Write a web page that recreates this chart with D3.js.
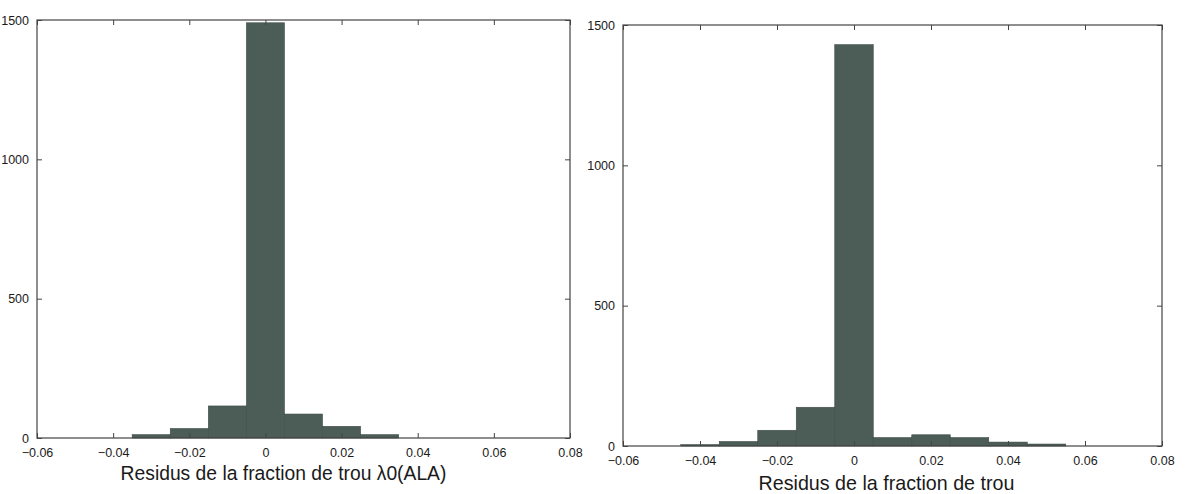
<!DOCTYPE html>
<html>
<head>
<meta charset="utf-8">
<script src="https://cdn.jsdelivr.net/npm/d3@7"></script>
<style>
  html, body { margin: 0; padding: 0; background: #fff; }
  svg { display: block; }
  text { font-family: "Liberation Sans", Arial, Helvetica, sans-serif; fill: #1a1a1a; }
</style>
</head>
<body>
<svg id="chart" width="1186" height="494"></svg>
<script>
// ---- data ----
const xTicks = [-0.06, -0.04, -0.02, 0, 0.02, 0.04, 0.06, 0.08];
const xTickLabels = ["\u22120.06", "\u22120.04", "\u22120.02", "0", "0.02", "0.04", "0.06", "0.08"];
const yTicks = [0, 500, 1000, 1500];
const yTickLabels = ["0", "500", "1000", "1500"];

const leftBinStarts = [-0.035, -0.025, -0.015, -0.005, 0.005, 0.015, 0.025];
const leftCounts    = [12, 34, 115, 1490, 86, 42, 12];

const rightBinStarts = [-0.045, -0.035, -0.025, -0.015, -0.005, 0.005, 0.015, 0.025, 0.035, 0.045];
const rightCounts    = [5, 16, 56, 138, 1430, 30, 40, 30, 14, 7];

const binWidth = 0.01;
const leftXLabel = "Residus de la fraction de trou \u03bb0(ALA)";
const rightXLabel = "Residus de la fraction de trou";

// ---- drawing ----
const svg = d3.select("#chart");
const barColor = "#4c5c57";

function panel(cfg) {
  const x = d3.scaleLinear().domain([-0.06, 0.08]).range([cfg.left, cfg.right]);
  const y = d3.scaleLinear().domain([0, 1500]).range([cfg.bottom, cfg.top]);
  const g = svg.append("g");

  // bars
  g.selectAll("rect.bar").data(cfg.starts.map((s, i) => ({s, c: cfg.counts[i]})))
    .enter().append("rect")
    .attr("class", "bar")
    .attr("x", d => x(d.s))
    .attr("width", d => x(d.s + binWidth) - x(d.s))
    .attr("y", d => y(d.c))
    .attr("height", d => y(0) - y(d.c))
    .attr("fill", barColor)
    .attr("stroke", "#3f4d49")
    .attr("stroke-width", 0.6);

  // box
  g.append("rect")
    .attr("x", cfg.left).attr("y", cfg.top)
    .attr("width", cfg.right - cfg.left).attr("height", cfg.bottom - cfg.top)
    .attr("fill", "none").attr("stroke", "#444").attr("stroke-width", 1.2);

  const tl = 5;
  // bottom axis
  const xb = d3.axisBottom(x).tickValues(xTicks).tickSize(-tl)
    .tickFormat((d, i) => xTickLabels[i]).tickPadding(10);
  const gxb = g.append("g").attr("transform", `translate(0,${cfg.bottom})`).call(xb);
  gxb.select(".domain").remove();
  gxb.selectAll("line").attr("stroke", "#444");
  gxb.selectAll("text").attr("font-size", 12.5).attr("fill", "#1a1a1a");

  // top axis ticks (inward)
  const xt = d3.axisTop(x).tickValues(xTicks).tickSize(-tl).tickFormat("");
  const gxt = g.append("g").attr("transform", `translate(0,${cfg.top})`).call(xt);
  gxt.select(".domain").remove();
  gxt.selectAll("line").attr("stroke", "#444");

  // left axis
  const yl = d3.axisLeft(y).tickValues(yTicks).tickSize(-tl)
    .tickFormat((d, i) => yTickLabels[i]).tickPadding(8);
  const gyl = g.append("g").attr("transform", `translate(${cfg.left},0)`).call(yl);
  gyl.select(".domain").remove();
  gyl.selectAll("line").attr("stroke", "#444");
  gyl.selectAll("text").attr("font-size", 12.5).attr("fill", "#1a1a1a");

  // right axis ticks
  const yr = d3.axisRight(y).tickValues(yTicks).tickSize(-tl).tickFormat("");
  const gyr = g.append("g").attr("transform", `translate(${cfg.right},0)`).call(yr);
  gyr.select(".domain").remove();
  gyr.selectAll("line").attr("stroke", "#444");

  // x label
  const t = g.append("text")
    .attr("x", (cfg.left + cfg.right) / 2 + cfg.labelDx)
    .attr("y", cfg.labelY)
    .attr("text-anchor", "middle")
    .attr("font-size", 16)
    .text(cfg.label);
  const w = t.node().getComputedTextLength();
  t.attr("font-size", 16 * cfg.labelWidth / w);
}

panel({left: 37, right: 570, top: 20, bottom: 438,
       starts: leftBinStarts, counts: leftCounts,
       label: leftXLabel, labelY: 480, labelDx: -20, labelWidth: 326});
panel({left: 623, right: 1162, top: 25, bottom: 446,
       starts: rightBinStarts, counts: rightCounts,
       label: rightXLabel, labelY: 490, labelDx: -6, labelWidth: 256});
</script>
</body>
</html>
